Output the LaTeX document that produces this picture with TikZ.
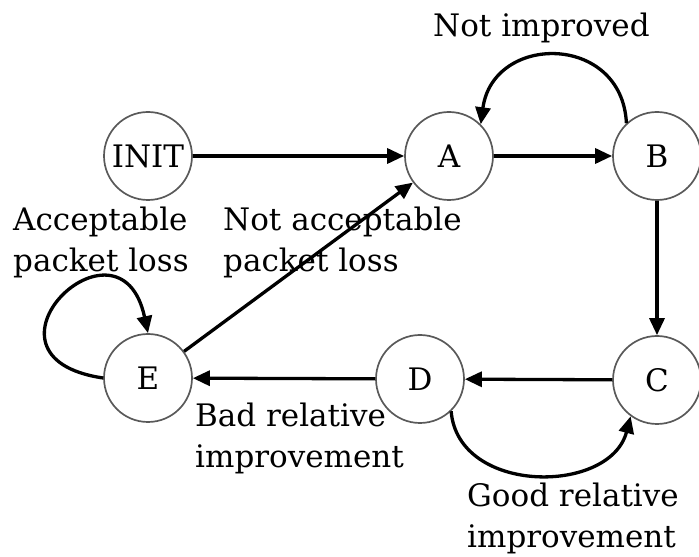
\documentclass[tikz,border=0pt]{standalone}
\usepackage{fontspec}
\setmainfont{DejaVu Serif}
\usetikzlibrary{arrows.meta}

\begin{document}
\begin{tikzpicture}[x=1pt, y=1pt,
  every node/.style={font=\fontsize{31}{41}\selectfont},
  state/.style={circle, draw=black!65, line width=1.7pt, minimum size=88pt, inner sep=0pt},
  edge/.style={line width=3.3pt, -{Triangle[length=17pt,width=15pt]}},
  lbl/.style={align=left, anchor=north west, inner sep=0pt}]
  \useasboundingbox (0,0) rectangle (699,557);

  \node[state] (I) at (148,401) {INIT};
  \node[state] (A) at (449,401) {A};
  \node[state] (B) at (657,401) {B};
  \node[state] (C) at (657,177) {C};
  \node[state] (D) at (420,178) {D};
  \node[state] (E) at (148,179) {E};

  \node[lbl] (acc) at (13,350) {Acceptable\\packet loss};
  \node[lbl] (nacc) at (223,350) {Not acceptable\\packet loss};
  \node[lbl] (notimp) at (433,544) {Not improved};
  \node[lbl] (bad) at (195,154) {Bad relative\\improvement};
  \node[lbl] (good) at (467,74) {Good relative\\improvement};

  \draw[edge] (I) to (A);
  \draw[edge] (A) to (B);
  \draw[edge] (B) to (C);
  \draw[edge] (C) to (D);
  \draw[edge] (D) to (E);
  \draw[edge] (E) to (A);

  % loops
  \draw[edge] (B.133) .. controls (622,524) and (493,524) .. (A.45);
  \draw[edge] (D.-46) .. controls (458,62) and (610,62) .. (C.234);
  \draw[edge] (E.west) .. controls (-40,200) and (120,355) .. (E.north);
\end{tikzpicture}
\end{document}
